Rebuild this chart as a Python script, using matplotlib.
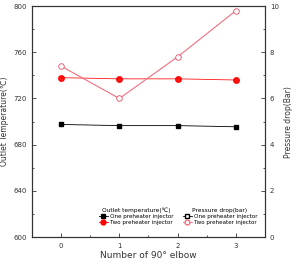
import numpy as np
from matplotlib import pyplot as plt
from matplotlib.lines import Line2D

elbows = [0, 1, 2, 3]
temp_one = [697.5, 696.5, 696.5, 695.5]
temp_two = [738, 737, 737, 736]
dp_two = [7.4, 6.0, 7.8, 9.8]

plt.rcParams['font.family'] = ['DejaVu Sans']
fig = plt.figure(figsize=(2.96, 2.64), dpi=100)
ax = fig.add_axes([0.108, 0.102, 0.787, 0.875])
ax2 = ax.twinx()

ax.plot(elbows, temp_one, color='black', marker='s', ms=3.5, lw=0.6)
ax.plot(elbows, temp_two, color='red', marker='o', ms=4, lw=0.6, alpha=0.9)
ax2.plot(elbows, dp_two, color='#f07080', marker='o', ms=4, lw=0.8,
         markerfacecolor='white', markeredgecolor='#e05060', markeredgewidth=0.6)

ax.set_xlim(-0.5, 3.5)
ax.set_ylim(600, 800)
ax2.set_ylim(0, 10)
ax.set_xticks(elbows)
ax.set_xticks([0.5, 1.5, 2.5], minor=True)
ax.set_yticks(np.arange(600, 801, 40))
ax.set_yticks(np.arange(620, 800, 40), minor=True)
ax2.set_yticks(np.arange(0, 11, 2))
ax2.set_yticks(np.arange(1, 10, 2), minor=True)

for a in (ax, ax2):
    a.tick_params(which='both', direction='in', labelsize=5, colors='#333333', width=0.6)
    a.tick_params(which='major', length=3)
    a.tick_params(which='minor', length=1.5)
    for s in a.spines.values():
        s.set_linewidth(0.8)
        s.set_color('#333333')
ax.tick_params(axis='x', pad=4)

ax.set_xlabel('Number of 90° elbow', fontsize=6.5, color='#333333', labelpad=2)
ax.set_ylabel('Outlet Temperature(℃)', fontsize=5.5, color='#333333', labelpad=3)
ax2.set_ylabel('Pressure drop(Bar)', fontsize=5.5, color='#333333', labelpad=4)

h1 = [Line2D([], [], color='black', marker='s', ms=3, lw=0.6),
      Line2D([], [], color='red', marker='o', ms=3.5, lw=0.6)]
h2 = [Line2D([], [], color='black', marker='s', ms=3, lw=0.6, markerfacecolor='white'),
      Line2D([], [], color='#f07080', marker='o', ms=3.5, lw=0.6, markerfacecolor='white')]
lab = ['One preheater injector', 'Two preheater injector']
kw = dict(fontsize=4.1, title_fontsize=4.2, frameon=False, handlelength=1.6,
          handletextpad=0.3, labelspacing=0.2, borderpad=0.1, borderaxespad=0)
leg1 = ax2.legend(h1, lab, title='Outlet temperature(℃)', loc='lower left',
                  bbox_to_anchor=(0.285, 0.05), **kw)
ax2.add_artist(leg1)
ax2.legend(h2, lab, title='Pressure drop(bar)', loc='lower left',
           bbox_to_anchor=(0.645, 0.05), **kw)

fig.savefig('out.png', dpi=100)
